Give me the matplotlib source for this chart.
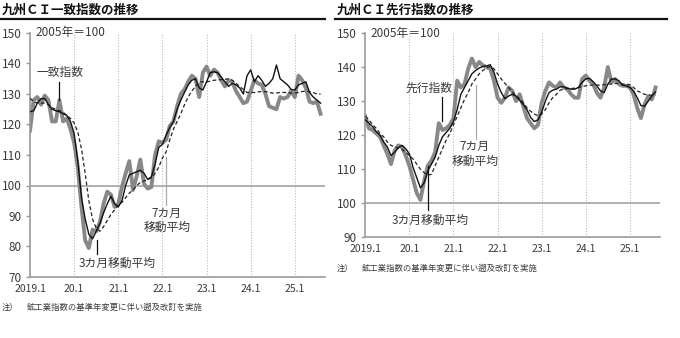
import matplotlib
matplotlib.use("Agg")
import matplotlib.pyplot as plt

plt.rcParams['font.family'] = ['Noto Sans CJK JP', 'DejaVu Sans']

# ---- data (monthly, 2019.1 - 2025.8) ----
years = ['2019.1', '20.1', '21.1', '22.1', '23.1', '24.1', '25.1']

# 九州CI一致指数
coin_idx = [118, 128, 129, 126.5, 129.5, 128, 121, 121, 128, 121, 122, 118.5,
            114, 106, 93, 82, 79.5, 85.5, 85, 88, 94, 98, 97, 93,
            94, 99.5, 104, 108, 98.5, 103, 108.5, 100.5, 99, 99.5, 110, 114.5,
            114, 115, 119.5, 121, 126, 130, 131.5, 134, 136, 135, 129, 137,
            139, 136, 138, 137, 134.5, 132.5, 134.5, 134, 131, 129, 127, 127.5,
            131, 134.5, 133.5, 133, 130, 126, 125.5, 125, 129, 128.5, 129, 131,
            129, 136, 134.5, 132, 127.5, 127, 127.5, 123.5]
coin_ma3 = [124.2, 124.5, 127, 128.5, 128.5, 126.5, 125, 124.5, 124.2, 123.5, 123, 121,
            117, 108, 96, 89, 84, 82.5, 85, 87.5, 91, 94, 96.5, 94,
            93, 95, 100, 103.5, 104, 104.5, 105, 104, 102, 102.8, 107, 112.5,
            113.5, 116.5, 119, 121, 125, 128, 130.5, 133, 134.5, 135, 132, 131.3,
            134, 137, 137.3, 137, 135.5, 134, 132.5, 133.5, 133, 132, 130, 136,
            137.9, 134, 136, 134.5, 132.5, 133.5, 135, 139.5, 135, 134, 133, 131.5,
            131.3, 133, 133.5, 134, 130.5, 129, 128, 127]
coin_ma7 = [128.6, 127.5, 127, 127, 127, 126.5, 125.5, 125, 124.5, 124, 123, 122,
            120.5, 117.5, 112, 104, 95, 89, 86, 85, 86.5, 88.5, 90.5, 92,
            93.5, 94.5, 96, 97.5, 98.5, 100, 101, 101.5, 102, 102.5, 104, 106,
            109, 111, 115, 118.5, 121, 123.5, 126.5, 129, 131, 132.5, 134, 134,
            134, 134.2, 134.5, 134.6, 134.7, 134.8, 135, 134.5, 133.5, 132.5, 131.5, 130.5,
            130.5, 130.5, 130.7, 130.8, 130.8, 130.5, 130.3, 130.3, 130.5, 130.5, 130.5, 130.3,
            130.3, 130.5, 130.8, 131, 130.8, 130.5, 130, 130]

# 九州CI先行指数
lead_idx = [125.5, 122, 121.5, 120.5, 119.5, 117, 114.5, 111.5, 115.5, 117, 116.5, 114,
            111, 107, 103, 101, 106.5, 111, 112.5, 115, 123.5, 121.5, 122, 123,
            125, 136, 134, 135, 139.5, 142.5, 140, 141.5, 140.5, 140, 139.5, 136,
            131, 129.5, 131, 134, 133, 130, 132, 128.5, 125, 123.5, 122, 123,
            129.5, 133, 135.5, 134.5, 134, 135.5, 134, 133.5, 132, 131, 131, 136.5,
            137.5, 136, 135, 132.5, 131, 134, 140, 135.5, 136.5, 135, 134.5, 134.5,
            134, 132, 128, 125, 129, 131.5, 130.5, 134]
lead_ma3 = [124.5, 123.5, 122.5, 121, 120, 118, 116.5, 114, 115, 116.3, 117, 116,
            114.5, 110.5, 107.5, 104.5, 106, 109.5, 111.5, 113.5, 117, 119.5, 120.8, 122,
            124, 127.5, 132, 134, 136, 138, 139, 139.7, 140.2, 140.3, 140.7, 138.5,
            135, 132.5, 130.7, 131.5, 132, 131.5, 130.2, 129, 127.5, 125.2, 124, 124.5,
            126.7, 130, 132.5, 133.2, 133.5, 134.2, 134.2, 133.8, 133.5, 133.5, 134, 135.5,
            136.5, 136.7, 135.7, 134.5, 133, 132.5, 135, 136.5, 136.5, 136, 134.7, 134.5,
            134, 133, 131, 128.7, 128.5, 130, 131.5, 132.7]
lead_ma7 = [125.5, 124.5, 123, 122, 120.5, 119.5, 118, 117, 116.5, 116.3, 115.8, 115,
            114, 113, 111.5, 110, 109, 108.3, 108.5, 111, 113.5, 116, 118.5, 120.5,
            123, 125.5, 128, 130.5, 132.5, 135, 136.5, 138, 139, 139.7, 140.2, 139.5,
            138, 136.5, 135.2, 134, 132.7, 131.5, 130.7, 129.5, 128, 127, 126.2, 125.7,
            126.2, 127.5, 129.5, 131, 132, 133.2, 133.5, 133.7, 133.7, 133.8, 134, 134.2,
            134.5, 134.7, 134.7, 134.7, 134.7, 134.8, 135, 135, 135.2, 135.2, 135, 135,
            134.8, 134, 133, 132.5, 132, 131.8, 131.7, 131.8]

months = list(range(len(coin_idx)))
year_pos = [12 * i for i in range(len(years))]

TXT = '#3a3a3a'
GRAY = '#888888'
AXC = '#9a9a9a'

W, H = 680, 338
fig = plt.figure(figsize=(W / 100, H / 100), dpi=100)


def fx(px):
    return px / W


def fy(py):
    return 1 - py / H


def setup(ax, ymin, ymax):
    ax.set_ylim(ymin, ymax)
    ax.set_xlim(0, 80.2)
    for s in ['top', 'right']:
        ax.spines[s].set_visible(False)
    for s in ['left', 'bottom']:
        ax.spines[s].set_color(AXC)
        ax.spines[s].set_linewidth(1.2)
    ax.set_yticks(range(ymin, ymax + 1, 10))
    ax.set_xticks(year_pos)
    ax.set_xticklabels(years)
    ax.tick_params(axis='y', colors=AXC, labelcolor=TXT, labelsize=8.5,
                   length=3, width=1, pad=3)
    ax.tick_params(axis='x', length=0, labelcolor=TXT, labelsize=7.5, pad=5)
    for p in year_pos[1:]:
        ax.axvline(p, color='#bbbbbb', lw=0.8, ls=(0, (1, 1.5)), zorder=0)
    ax.axhline(100, color='#aaaaaa', lw=1.3, zorder=0)
    ax.text(1.5, ymax, '2005年＝100', fontsize=8.5, color=TXT, va='center')


def draw(ax, idx, ma3, ma7):
    ax.plot(months, idx, color=GRAY, lw=2.8, zorder=2, solid_joinstyle='round')
    ax.plot(months, ma7, color='#222222', lw=0.9, ls=(0, (3, 2)), zorder=3)
    ax.plot(months, ma3, color='#111111', lw=1.0, zorder=4)


# ---- left: 一致指数 ----
ax1 = fig.add_axes([fx(30), fy(277), fx(325) - fx(30), fy(33) - fy(277)])
setup(ax1, 70, 150)
draw(ax1, coin_idx, coin_ma3, coin_ma7)
ax1.text(8.15, 137.2, '一致指数', fontsize=8.5, color=TXT, ha='center', va='center')
ax1.plot([8.0, 8.0], [133.9, 128.0], color='#111111', lw=0.9, zorder=5)
ax1.text(23.6, 74.6, '3カ月移動平均', fontsize=8.5, color=TXT, ha='center', va='center')
ax1.plot([18.1, 18.1], [82.1, 77.5], color='#111111', lw=0.9, zorder=5)
ax1.text(37.2, 88.5, '7カ月\n移動平均', fontsize=8.5, color=TXT, ha='center',
         va='center', linespacing=1.15)
ax1.plot([36.9, 36.9], [109.3, 93.6], color='#aaaaaa', lw=0.9, zorder=5)

# ---- right: 先行指数 ----
ax2 = fig.add_axes([fx(365.3), fy(237.3), fx(660) - fx(365.3), fy(33) - fy(237.3)])
setup(ax2, 90, 150)
draw(ax2, lead_idx, lead_ma3, lead_ma7)
ax2.text(17.2, 133.7, '先行指数', fontsize=8.5, color=TXT, ha='center', va='center')
ax2.plot([20.8, 20.8], [131.3, 124.2], color='#111111', lw=0.9, zorder=5)
ax2.text(29.8, 114.5, '7カ月\n移動平均', fontsize=8.5, color=TXT, ha='center',
         va='center', linespacing=1.15)
ax2.plot([30, 30], [134.6, 118.9], color='#aaaaaa', lw=0.9, zorder=5)
ax2.text(17.6, 95.1, '3カ月移動平均', fontsize=8.5, color=TXT, ha='center', va='center')
ax2.plot([17, 17], [110.9, 98.1], color='#111111', lw=0.9, zorder=5)

# ---- titles, rules, notes ----
fig.text(fx(2), fy(10), '九州ＣＩ一致指数の推移', fontsize=9, fontweight='bold',
         color='#111111', va='center')
fig.text(fx(337), fy(10), '九州ＣＩ先行指数の推移', fontsize=9, fontweight='bold',
         color='#111111', va='center')
fig.add_artist(plt.Line2D([fx(0), fx(325)], [fy(18.5), fy(18.5)], color='#111111', lw=1.6))
fig.add_artist(plt.Line2D([fx(335), fx(667)], [fy(19), fy(19)], color='#111111', lw=1.6))

note = '鉱工業指数の基準年変更に伴い遡及改訂を実施'
fig.text(fx(2), fy(307), '注）', fontsize=6, color=TXT, va='center')
fig.text(fx(27), fy(307), note, fontsize=6, color=TXT, va='center')
fig.text(fx(337), fy(268), '注）', fontsize=6, color=TXT, va='center')
fig.text(fx(362), fy(268), note, fontsize=6, color=TXT, va='center')

fig.savefig('out.png', dpi=100, facecolor='white')
